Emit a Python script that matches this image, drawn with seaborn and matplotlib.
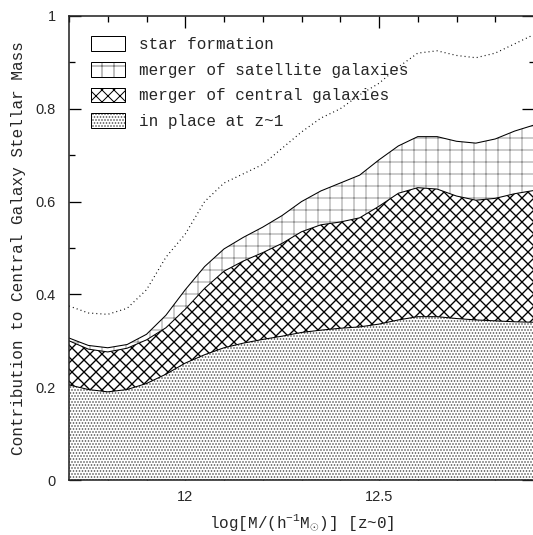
import matplotlib
matplotlib.use("Agg")
import matplotlib.pyplot as plt
import seaborn as sns
from matplotlib.patches import Patch
from matplotlib.legend_handler import HandlerTuple
from matplotlib.ticker import MultipleLocator, FormatStrFormatter

# halo mass at z~0
log_mass = [11.70, 11.75, 11.80, 11.85, 11.90, 11.95, 12.00, 12.05, 12.10,
            12.15, 12.20, 12.25, 12.30, 12.35, 12.40, 12.45, 12.50, 12.55,
            12.60, 12.65, 12.70, 12.75, 12.80, 12.85, 12.90]

# cumulative fractions of the central galaxy stellar mass
in_place = [0.205, 0.195, 0.190, 0.195, 0.208, 0.228, 0.252, 0.270, 0.285,
            0.295, 0.303, 0.310, 0.318, 0.323, 0.327, 0.330, 0.336, 0.345,
            0.352, 0.352, 0.348, 0.345, 0.343, 0.341, 0.340]
plus_central = [0.300, 0.282, 0.276, 0.284, 0.302, 0.328, 0.368, 0.413, 0.450,
                0.472, 0.490, 0.510, 0.535, 0.550, 0.556, 0.565, 0.590, 0.618,
                0.630, 0.627, 0.612, 0.603, 0.607, 0.617, 0.624]
plus_satellite = [0.306, 0.290, 0.285, 0.292, 0.314, 0.355, 0.410, 0.460, 0.498,
                  0.523, 0.545, 0.570, 0.600, 0.623, 0.640, 0.657, 0.690, 0.720,
                  0.740, 0.740, 0.730, 0.726, 0.735, 0.752, 0.765]
dotted_curve = [0.375, 0.360, 0.357, 0.370, 0.410, 0.480, 0.530, 0.600, 0.640,
                0.660, 0.680, 0.715, 0.750, 0.780, 0.800, 0.830, 0.855, 0.890,
                0.920, 0.925, 0.915, 0.910, 0.920, 0.940, 0.960]

legend_labels = ["star formation", "merger of satellite galaxies",
                 "merger of central galaxies", "in place at z~1"]
x_label = r"log[M/(h$^{-1}$M$_{\odot}$)] [z~0]"
y_label = "Contribution to Central Galaxy Stellar Mass"

DPI = 72
sns.set_theme(style="ticks")
plt.rcParams.update({
    "font.family": ["Liberation Mono", "DejaVu Sans"],
    "mathtext.fontset": "custom",
    "mathtext.rm": "Liberation Mono",
    "mathtext.it": "Liberation Mono",
    "hatch.linewidth": 1.0,
    "axes.linewidth": 1.6,
})

fig = plt.figure(figsize=(533 / DPI, 535 / DPI), dpi=DPI)
ax = fig.add_axes([69 / 533, 55 / 535, 465 / 533, 464 / 535])

dots_color = "0.3"
sat_color = "0.5"
dots_hatch = "...."
cross_hatch = "xx"
grid_hatch = "+"
cross_lw = 1.35
grid_lw = 0.8

ax.fill_between(log_mass, 0, in_place, facecolor="white", edgecolor=dots_color,
                hatch=dots_hatch, linewidth=0)
with plt.rc_context({"hatch.linewidth": cross_lw}):
    ax.fill_between(log_mass, in_place, plus_central, facecolor="white",
                    edgecolor="black", hatch=cross_hatch, linewidth=0)
with plt.rc_context({"hatch.linewidth": grid_lw}):
    ax.fill_between(log_mass, plus_central, plus_satellite, facecolor="white",
                    edgecolor=sat_color, hatch=grid_hatch, linewidth=0)

for boundary in (in_place, plus_central, plus_satellite):
    sns.lineplot(x=log_mass, y=boundary, ax=ax, color="black", linewidth=1.05)
sns.lineplot(x=log_mass, y=dotted_curve, ax=ax, color="black", linewidth=1.2,
             linestyle=(0, (0.8, 2.6)))

ax.set_xlim(11.7, 12.9)
ax.set_ylim(0, 1)
ax.xaxis.set_major_locator(MultipleLocator(0.5))
ax.xaxis.set_minor_locator(MultipleLocator(0.1))
ax.yaxis.set_major_locator(MultipleLocator(0.2))
ax.yaxis.set_minor_locator(MultipleLocator(0.1))
ax.xaxis.set_major_formatter(FormatStrFormatter("%g"))
ax.yaxis.set_major_formatter(FormatStrFormatter("%g"))
ax.tick_params(which="both", direction="in", top=True, right=True,
               width=1.3, color="black")
ax.tick_params(which="major", length=12, pad=13)
ax.tick_params(which="minor", length=5.5)
for lab in ax.get_xticklabels() + ax.get_yticklabels():
    lab.set_fontfamily("Liberation Sans")
    lab.set_fontsize(14.5)
ax.tick_params(axis="x", pad=10)
ax.set_xlabel(x_label, fontsize=16, labelpad=8)
ax.set_ylabel(y_label, fontsize=16, labelpad=10)

outline = dict(facecolor="none", edgecolor="black", linewidth=1.0)
with plt.rc_context({"hatch.linewidth": grid_lw}):
    sat_swatch = Patch(facecolor="white", edgecolor=sat_color, hatch=grid_hatch,
                       linewidth=0)
with plt.rc_context({"hatch.linewidth": cross_lw}):
    cross_swatch = Patch(facecolor="white", edgecolor="black", hatch=cross_hatch,
                         linewidth=0)
dots_swatch = Patch(facecolor="white", edgecolor=dots_color, hatch=dots_hatch,
                    linewidth=0)
handles = [
    Patch(facecolor="white", edgecolor="black", linewidth=1.0),
    (sat_swatch, Patch(**outline)),
    (cross_swatch, Patch(**outline)),
    (dots_swatch, Patch(**outline)),
]
ax.legend(handles, legend_labels, handler_map={tuple: HandlerTuple(ndivide=1)},
          loc="upper left", bbox_to_anchor=(0.048, 0.957), frameon=False,
          fontsize=16, borderpad=0, borderaxespad=0, handlelength=2.1,
          handleheight=1.05, handletextpad=0.85, labelspacing=0.62)

fig.savefig("out.png", dpi=DPI)
